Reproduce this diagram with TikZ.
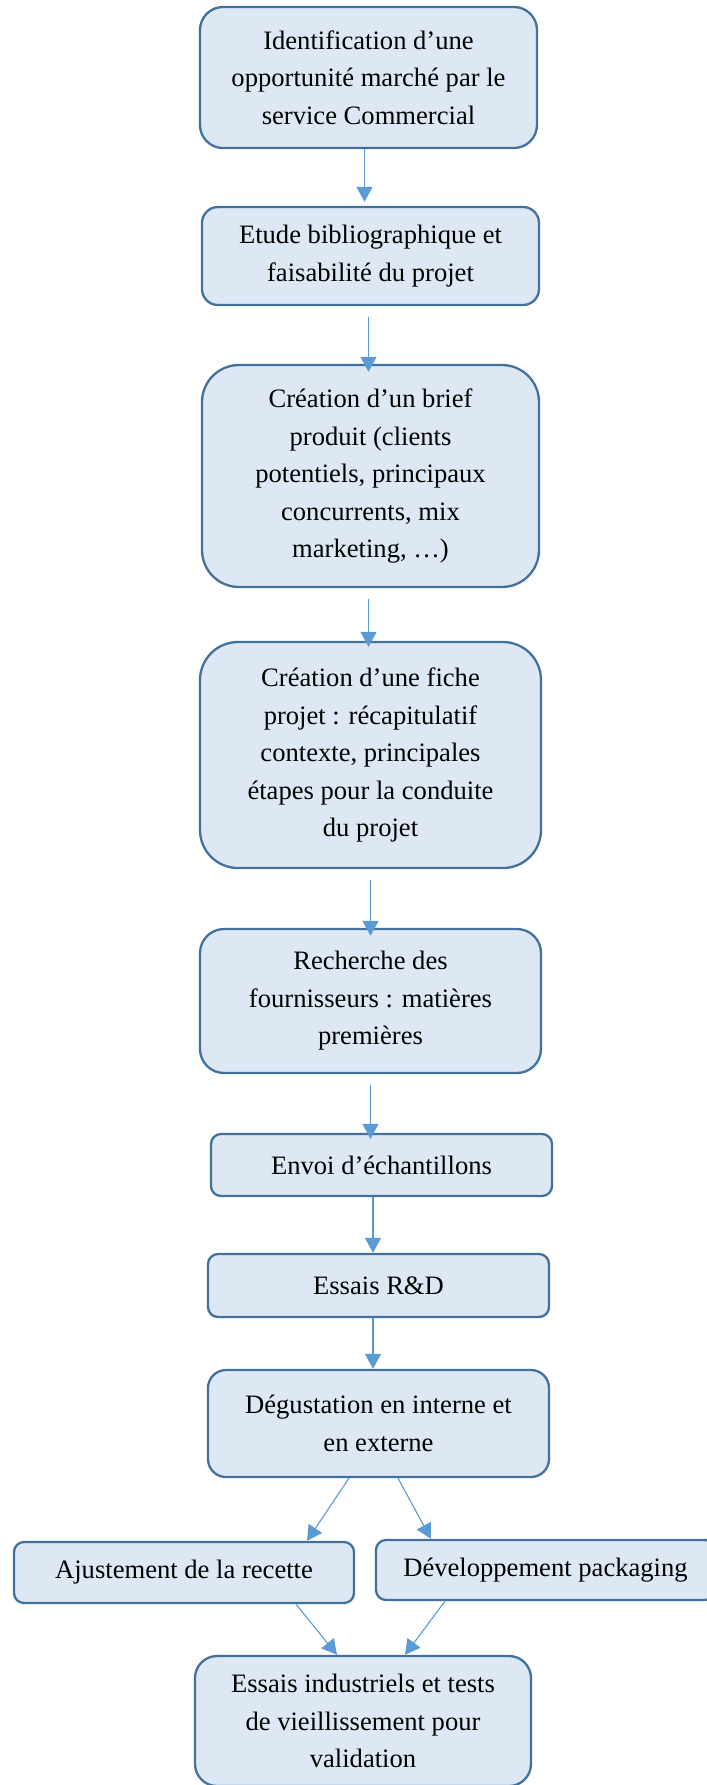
\documentclass[tikz,border=0pt]{standalone}
\usepackage{fontspec}
\setmainfont{Liberation Serif}
\usepackage{tikz}
\usetikzlibrary{arrows.meta,calc}
\definecolor{fond}{HTML}{DEE8F5}
\definecolor{bordure}{HTML}{41719C}
\definecolor{trait}{HTML}{5B9BD5}
\tikzset{>={Triangle[length=7.5pt,width=8pt]}}
\tikzset{
    etape/.style={rectangle,rounded corners=#1,draw=bordure,fill=fond,line width=1.15pt,
        align=center,inner sep=2pt,font=\fontsize{13.3}{18.75}\selectfont},
    fleche/.style={->,draw=trait,line width=0.55pt},
    ecart/.style={shorten <=5.5pt},
}

\begin{document}
\begin{tikzpicture}[x=0.5pt,y=-0.5pt]
        \useasboundingbox (0,0) rectangle (707,1785);
        \node[etape=11.5pt,minimum width=168.5pt,minimum height=70.5pt] (ident) at (368.5,77.5)
            {Identification d’une\\opportunité marché par le\\service Commercial};
        \node[etape=8pt,minimum width=168.5pt,minimum height=49pt] (etude) at (370.5,256)
            {Etude bibliographique et\\faisabilité du projet};
        \node[etape=18.5pt,minimum width=168.5pt,minimum height=111pt] (brief) at (370.5,476)
            {Création d’un brief\\produit (clients\\potentiels, principaux\\concurrents, mix\\marketing, …)};
        \node[etape=19pt,minimum width=170.5pt,minimum height=113pt] (fiche) at (370.5,755)
            {Création d’une fiche\\projet : récapitulatif\\contexte, principales\\étapes pour la conduite\\du projet};
        \node[etape=12pt,minimum width=170.5pt,minimum height=72pt] (fourn) at (370.5,1001)
            {Recherche des\\fournisseurs : matières\\premières};
        \node[etape=5pt,minimum width=170.5pt,minimum height=31pt] (envoi) at (381.5,1165)
            {Envoi d’échantillons};
        \node[etape=5pt,minimum width=170.5pt,minimum height=31.5pt] (essais) at (378.5,1285.5)
            {Essais R\&D};
        \node[etape=9pt,minimum width=170.5pt,minimum height=53.5pt] (degust) at (378.5,1423.5)
            {Dégustation en interne et\\en externe};
        \node[etape=5pt,minimum width=170pt,minimum height=30.5pt] (recette) at (184,1572.5)
            {Ajustement de la recette};
        \node[etape=5pt,minimum width=169.5pt,minimum height=30pt] (pack) at (545.5,1570)
            {Développement packaging};
        \node[etape=11pt,minimum width=168pt,minimum height=65pt] (indus) at (363,1721)
            {Essais industriels et tests\\de vieillissement pour\\validation};

        \draw[fleche,shorten >=2pt] ($(ident.south)+(-4,0)$) -- ($(etude.north)+(-6,0)$);
        \draw[fleche,ecart] ($(etude.south)+(-2,0)$) -- ($(brief.north)+(-2,8)$);
        \draw[fleche,ecart] ($(brief.south)+(-2,0)$) -- ($(fiche.north)+(-2,6)$);
        \draw[fleche,ecart] (fiche.south) -- ($(fourn.north)+(0,8)$);
        \draw[fleche,ecart] (fourn.south) -- ($(envoi.north)+(-11,6)$);
        \draw[fleche] ($(envoi.south)+(-8.5,0)$) -- ($(essais.north)+(-5.5,0)$);
        \draw[fleche] ($(essais.south)+(-5.5,0)$) -- ($(degust.north)+(-5.5,0)$);
        \draw[fleche] ($(degust.south)+(-29.5,0)$) -- ($(recette.north)+(123,0)$);
        \draw[fleche] ($(degust.south)+(19.5,0)$) -- ($(pack.north)+(-114.5,0)$);
        \draw[fleche] ($(recette.south)+(112,0)$) -- ($(indus.north)+(-26,0)$);
        \draw[fleche] ($(pack.south)+(-100.5,0)$) -- ($(indus.north)+(42,0)$);
\end{tikzpicture}
\end{document}
